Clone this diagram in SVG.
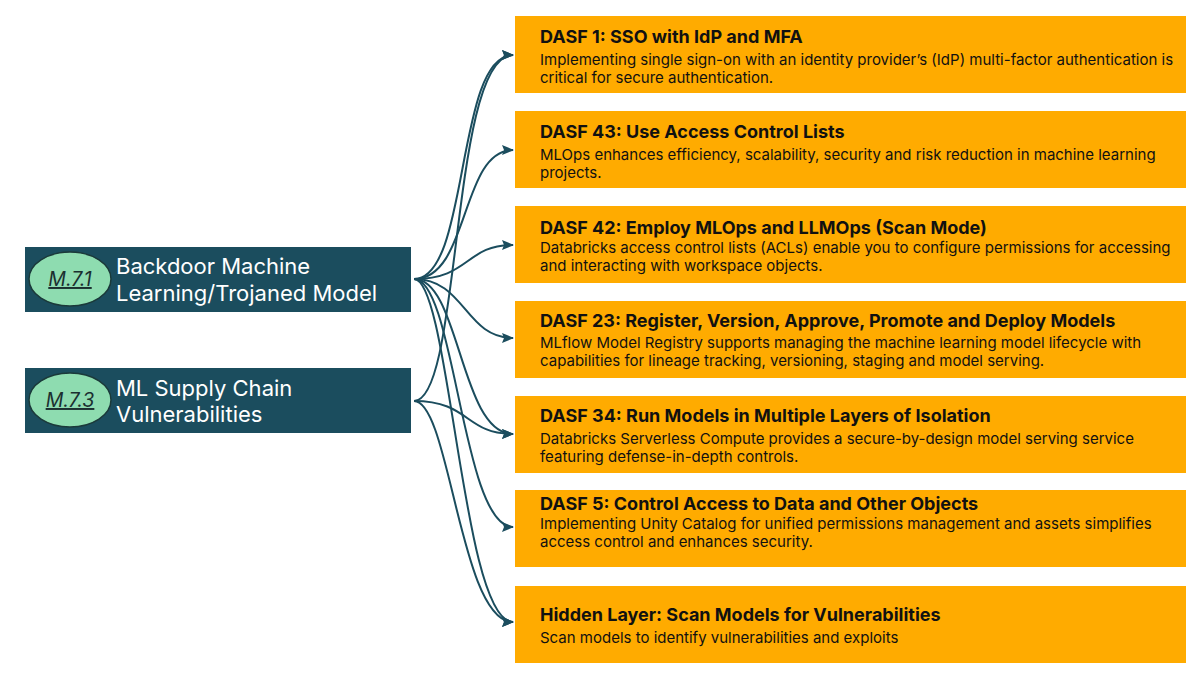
<svg xmlns="http://www.w3.org/2000/svg" width="1200" height="680" viewBox="0 0 1200 680">
<style>
.risk{fill:#1b4d5e}
.risktxt{fill:#ffffff;font-family:Inter,"Noto Sans",sans-serif;font-size:22px}
.ell{fill:#8edcb0;stroke:#1b3a3a;stroke-width:1.5}
.elltxt{fill:#1b3030;font-family:Inter,"Noto Sans",sans-serif;font-size:19.5px;font-style:italic;text-decoration:underline;text-anchor:middle}
.ctl{fill:#ffab00}
.title{fill:#111;font-family:Inter,"Noto Sans",sans-serif;font-size:18px;font-weight:bold}
.desc{fill:#111;font-family:Inter,"Noto Sans",sans-serif;font-size:15px}
.con{fill:none;stroke:#1b4d5e;stroke-width:2}
</style>
<defs>
<marker id="arrow" viewBox="0 0 12 10" refX="11" refY="5" markerWidth="12" markerHeight="10" markerUnits="userSpaceOnUse" orient="auto">
<path d="M0,0 L12,5 L0,10 L2,5 z" fill="#1b4d5e"/>
</marker>
</defs>
<rect width="1200" height="680" fill="#ffffff"/>

<g id="connectors">
<path class="con" marker-end="url(#arrow)" d="M414,279 C470,279 455,55 513,55"/>
<path class="con" marker-end="url(#arrow)" d="M414,279 C470,279 460,150 513,150"/>
<path class="con" marker-end="url(#arrow)" d="M414,279 C470,279 465,245 513,245"/>
<path class="con" marker-end="url(#arrow)" d="M414,279 C465,279 465,338 513,338"/>
<path class="con" marker-end="url(#arrow)" d="M414,279 C460,279 460,434 513,434"/>
<path class="con" marker-end="url(#arrow)" d="M414,279 C455,279 462,527 513,527"/>
<path class="con" marker-end="url(#arrow)" d="M414,279 C450,279 462,622 513,622"/>
<path class="con" marker-end="url(#arrow)" d="M414,401 C462,401 450,55 513,55"/>
<path class="con" marker-end="url(#arrow)" d="M414,401 C470,401 465,434 513,434"/>
<path class="con" marker-end="url(#arrow)" d="M414,401 C450,401 460,622 513,622"/>
</g>

<g id="m71">
<rect class="risk" x="25" y="247" width="386" height="65"/>
<ellipse class="ell" cx="70" cy="279" rx="41" ry="27"/>
<text class="elltxt" x="70" y="286">M.7.1</text>
<text class="risktxt" x="116" y="274">Backdoor Machine</text>
<text class="risktxt" x="116" y="301">Learning/Trojaned Model</text>
</g>

<g id="m73">
<rect class="risk" x="25" y="368" width="386" height="65"/>
<ellipse class="ell" cx="70" cy="400" rx="41" ry="27"/>
<text class="elltxt" x="70" y="407">M.7.3</text>
<text class="risktxt" x="116" y="396">ML Supply Chain</text>
<text class="risktxt" x="116" y="422">Vulnerabilities</text>
</g>

<g id="dasf1">
<rect class="ctl" x="515" y="16" width="671" height="77"/>
<text class="title" x="540" y="43">DASF 1: SSO with IdP and MFA</text>
<text class="desc" x="540" y="65">Implementing single sign-on with an identity provider’s (IdP) multi-factor authentication is</text>
<text class="desc" x="540" y="83">critical for secure authentication.</text>
</g>

<g id="dasf43">
<rect class="ctl" x="515" y="111" width="671" height="77"/>
<text class="title" x="540" y="138">DASF 43: Use Access Control Lists</text>
<text class="desc" x="540" y="160">MLOps enhances efficiency, scalability, security and risk reduction in machine learning</text>
<text class="desc" x="540" y="178">projects.</text>
</g>

<g id="dasf42">
<rect class="ctl" x="515" y="206" width="671" height="77"/>
<text class="title" x="540" y="234">DASF 42: Employ MLOps and LLMOps (Scan Mode)</text>
<text class="desc" x="540" y="253">Databricks access control lists (ACLs) enable you to configure permissions for accessing</text>
<text class="desc" x="540" y="271">and interacting with workspace objects.</text>
</g>

<g id="dasf23">
<rect class="ctl" x="515" y="301" width="671" height="77"/>
<text class="title" x="540" y="327">DASF 23: Register, Version, Approve, Promote and Deploy Models</text>
<text class="desc" x="540" y="348">MLflow Model Registry supports managing the machine learning model lifecycle with</text>
<text class="desc" x="540" y="366">capabilities for lineage tracking, versioning, staging and model serving.</text>
</g>

<g id="dasf34">
<rect class="ctl" x="515" y="396" width="671" height="77"/>
<text class="title" x="540" y="422">DASF 34: Run Models in Multiple Layers of Isolation</text>
<text class="desc" x="540" y="444">Databricks Serverless Compute provides a secure-by-design model serving service</text>
<text class="desc" x="540" y="462">featuring defense-in-depth controls.</text>
</g>

<g id="dasf5">
<rect class="ctl" x="515" y="490" width="671" height="77"/>
<text class="title" x="540" y="510">DASF 5: Control Access to Data and Other Objects</text>
<text class="desc" x="540" y="529">Implementing Unity Catalog for unified permissions management and assets simplifies</text>
<text class="desc" x="540" y="547">access control and enhances security.</text>
</g>

<g id="hiddenlayer">
<rect class="ctl" x="515" y="586" width="671" height="77"/>
<text class="title" x="540" y="621">Hidden Layer: Scan Models for Vulnerabilities</text>
<text class="desc" x="540" y="643">Scan models to identify vulnerabilities and exploits</text>
</g>
</svg>
